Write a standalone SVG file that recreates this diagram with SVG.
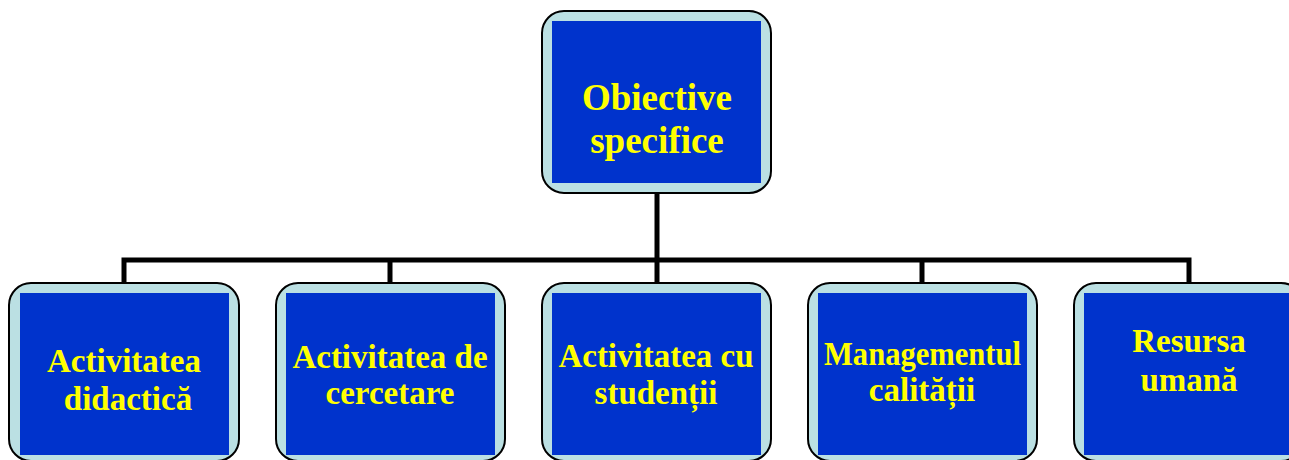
<svg xmlns="http://www.w3.org/2000/svg" width="1289" height="460" viewBox="0 0 1289 460">
<style>
.outer{fill:#BBE0E3;stroke:#000;stroke-width:2}
.inner{fill:#0033CC}
.t{font-family:"Liberation Serif","Times New Roman",serif;font-weight:bold;fill:#FFFF00;text-anchor:middle}
.big{font-size:37px}
.sm{font-size:33px}
.conn{fill:none;stroke:#000;stroke-width:5;stroke-linecap:square}
</style>
<rect width="1289" height="460" fill="#fff"/>
<g id="connectors">
<path class="conn" d="M657 193 V260 M124 283 V260 H1189 V283 M390 260 V283 M657 260 V283 M922 260 V283"/>
</g>
<g id="node-top">
<rect class="outer" x="542" y="11" width="229" height="182" rx="22"/>
<rect class="inner" x="552" y="21" width="209" height="162"/>
<text class="t big" x="657" y="110">Obiective</text>
<text class="t big" x="657" y="153">specifice</text>
</g>
<g id="node-1">
<rect class="outer" x="9" y="283" width="230" height="178" rx="22"/>
<rect class="inner" x="20" y="293" width="209" height="162"/>
<text class="t sm" x="124" y="372">Activitatea</text>
<text class="t sm" x="128" y="410">didactică</text>
</g>
<g id="node-2">
<rect class="outer" x="276" y="283" width="229" height="178" rx="22"/>
<rect class="inner" x="286" y="293" width="209" height="162"/>
<text class="t sm" x="390" y="368">Activitatea de</text>
<text class="t sm" x="390" y="404">cercetare</text>
</g>
<g id="node-3">
<rect class="outer" x="542" y="283" width="229" height="178" rx="22"/>
<rect class="inner" x="552" y="293" width="209" height="162"/>
<text class="t sm" x="656" y="367">Activitatea cu</text>
<text class="t sm" x="656" y="404">studenții</text>
</g>
<g id="node-4">
<rect class="outer" x="808" y="283" width="229" height="178" rx="22"/>
<rect class="inner" x="818" y="293" width="209" height="162"/>
<text class="t sm" x="922.5" y="365" textLength="197" lengthAdjust="spacingAndGlyphs">Managementul</text>
<text class="t sm" x="922" y="401">calității</text>
</g>
<g id="node-5">
<rect class="outer" x="1074" y="283" width="229" height="178" rx="22"/>
<rect class="inner" x="1084" y="293" width="209" height="162"/>
<text class="t sm" x="1189" y="352">Resursa</text>
<text class="t sm" x="1189" y="391">umană</text>
</g>
</svg>
